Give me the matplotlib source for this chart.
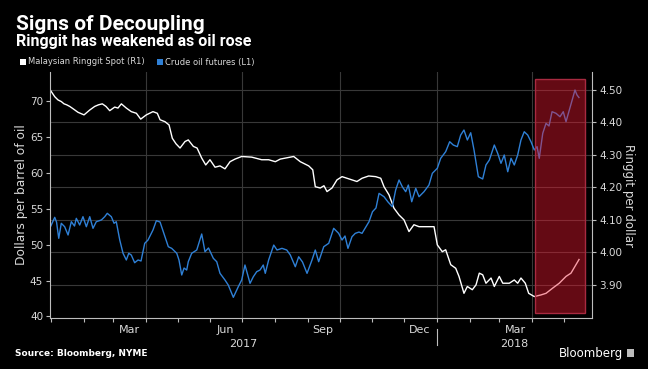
import numpy as np
import pandas as pd
import matplotlib
matplotlib.use("Agg")
import matplotlib.pyplot as plt
import matplotlib.dates as mdates
import matplotlib.ticker as mticker
from matplotlib.patches import Rectangle

start = pd.Timestamp("2017-01-01")

# Malaysian ringgit spot, ringgit per dollar (R1); days counted from 2017-01-01
myr_day = [0, 3.7, 6.8, 9.9, 12.5, 15, 17.9, 21, 25.7, 31.4, 36.8, 41.5, 45.1, 48.7,
           52.2, 55.7, 60.4, 63.5, 66.7, 71.4, 76.1, 80.9, 85, 90.3, 96.6, 100.7,
           103.3, 108, 111.8, 114.9, 118.4, 122.2, 126.9, 130, 134.8, 138.3, 142.7,
           146.5, 150.5, 155.3, 160, 164.7, 169.5, 174.2, 180.5, 190, 199.4, 206,
           212.3, 217, 221.7, 229.7, 235.9, 243.9, 247.7, 250.1, 254.8, 258.3, 261.2,
           265.9, 270.6, 275.4, 280.1, 284.8, 289.5, 294.3, 300.6, 307.2, 312, 315.1,
           319.8, 324.5, 329.3, 334, 338.7, 343.4, 348.2, 354.5, 359.2, 362.4, 365.5,
           370.2, 373.4, 378.2, 382.9, 386, 390.7, 393.9, 398.6, 402.1, 405.2, 408.4,
           411.5, 416.3, 419.4, 424.1, 427.4, 433.6, 438.3, 441.5, 444.6, 448.7, 451.9,
           457.2, 463.5, 468.3, 474.6, 480.8, 487.2, 491.9, 496.6, 499.5]
myr_val = [4.497, 4.479, 4.469, 4.464, 4.457, 4.454, 4.449, 4.442, 4.431, 4.423, 4.438,
           4.449, 4.454, 4.457, 4.449, 4.436, 4.447, 4.444, 4.457, 4.444, 4.433, 4.428,
           4.410, 4.423, 4.433, 4.428, 4.408, 4.402, 4.392, 4.351, 4.334, 4.321, 4.341,
           4.346, 4.326, 4.321, 4.290, 4.269, 4.285, 4.262, 4.266, 4.257, 4.279, 4.287,
           4.295, 4.293, 4.285, 4.285, 4.279, 4.287, 4.290, 4.295, 4.279, 4.266, 4.254,
           4.202, 4.198, 4.205, 4.187, 4.198, 4.223, 4.233, 4.228, 4.223, 4.218, 4.228,
           4.235, 4.233, 4.228, 4.202, 4.177, 4.136, 4.115, 4.100, 4.064, 4.085, 4.079,
           4.079, 4.079, 4.079, 4.023, 4.002, 4.008, 3.962, 3.951, 3.926, 3.874, 3.895,
           3.885, 3.900, 3.936, 3.931, 3.905, 3.921, 3.895, 3.926, 3.905, 3.905, 3.915,
           3.905, 3.921, 3.905, 3.874, 3.864, 3.869, 3.874, 3.890, 3.905, 3.926, 3.936,
           3.962, 3.978]

# Crude oil futures, dollars per barrel (L1)
oil_day = [0, 3.7, 5.4, 7.5, 9.9, 13.1, 16.3, 19.4, 22.4, 24.1, 27.3, 30.4, 33.6, 36.8,
           39.9, 43, 47.8, 51, 53.4, 57.2, 59.8, 61.9, 65.2, 68.3, 71.4, 73.7, 76.1,
           79.3, 82.5, 85.3, 88.8, 91.9, 96.6, 99.8, 103.3, 108, 111.1, 114.3, 119.1,
           121.2, 123.8, 126, 128.5, 130, 133.2, 138, 142.7, 145.8, 149.1, 153.7, 156.9,
           160, 164.7, 167.8, 172.6, 177.3, 180.5, 183.6, 188.4, 191.5, 194.7, 197.8,
           200.9, 202.8, 206, 210.8, 213.9, 218.6, 223.1, 226.5, 231.2, 234.4, 238,
           242.3, 247, 250.1, 253.3, 258.1, 262.8, 267.5, 272.2, 275.4, 278.2, 281,
           284.8, 287.9, 291.4, 294.3, 300.9, 304.2, 307.5, 310.4, 315.1, 318.9, 322.9,
           326.1, 329.3, 332.4, 335.6, 338.1, 341.3, 345.1, 348.2, 352.9, 357.6, 360.8,
           365.5, 368.7, 373.4, 377.2, 380.6, 384.4, 387.6, 390.7, 393.9, 397.1, 400.2,
           404.3, 408.4, 411.5, 414.7, 419.4, 422.6, 425.7, 428.8, 432.1, 435.2, 438.3,
           441.5, 444.6, 447.7, 451, 454.1, 457.2, 459.8, 461.9, 465.2, 468.3, 471.1,
           474, 477.7, 481.5, 484.6, 487.2, 490.3, 493.5, 495.7, 497.6, 499.4]
oil_val = [52.59, 53.80, 53.15, 50.88, 52.97, 52.49, 51.34, 53.19, 52.59, 53.66, 52.73,
           53.89, 52.49, 53.89, 52.27, 53.19, 53.43, 53.89, 54.36, 53.89, 52.97, 53.19,
           50.64, 48.79, 47.86, 48.79, 48.55, 47.48, 47.86, 47.72, 50.18, 50.64, 52.03,
           53.33, 53.15, 51.10, 49.71, 49.48, 48.79, 47.86, 45.77, 46.74, 46.46, 47.62,
           48.79, 49.25, 51.48, 49.01, 49.53, 48.09, 47.62, 46.00, 45.07, 44.37, 42.66,
           44.14, 45.07, 47.16, 44.61, 45.53, 46.23, 46.46, 47.16, 46.00, 47.86, 49.94,
           49.25, 49.48, 49.25, 48.55, 46.92, 48.31, 47.58, 46.00, 47.86, 49.25, 47.62,
           49.71, 50.18, 52.27, 51.57, 50.64, 51.20, 49.48, 51.10, 51.57, 51.75, 51.57,
           53.19, 54.58, 55.10, 57.14, 56.67, 55.93, 55.28, 57.60, 59.00, 58.06, 57.37,
           58.30, 55.97, 57.84, 56.67, 57.37, 58.30, 59.93, 60.63, 62.02, 62.94, 64.33,
           63.87, 63.64, 65.26, 65.96, 64.57, 65.58, 63.18, 59.46, 59.14, 61.09, 61.78,
           63.87, 62.72, 61.32, 62.48, 60.15, 62.02, 61.09, 62.48, 64.57, 65.72, 65.26,
           64.33, 63.18, 63.64, 62.02, 65.50, 66.89, 66.52, 68.51, 68.29, 67.81, 68.51,
           67.12, 68.75, 70.38, 71.53, 70.84, 70.49]

tick_labels = ["Mar", "Jun", "Sep", "Dec", "Mar"]
tick_dates = ["2017-03-16", "2017-06-15", "2017-09-15", "2017-12-16", "2018-03-16"]
grid_dates = ["2017-04-01", "2017-07-01", "2017-10-01", "2018-01-01", "2018-04-01"]
year_labels = ["2017", "2018"]
year_dates = ["2017-07-02", "2018-03-15"]
highlight_start, highlight_end = "2018-04-04", "2018-05-21"

myr_dates = start + pd.to_timedelta(myr_day, unit="D")
oil_dates = start + pd.to_timedelta(oil_day, unit="D")

BG = "black"
GRID = "#383838"
AXC = "#bdbdbd"
TXT = "#d9d9d9"
BLUE = "#2f80d6"

fig = plt.figure(figsize=(6.48, 3.69), dpi=100, facecolor=BG)
ax = fig.add_axes([0.0772, 0.1382, 0.8364, 0.6667], facecolor=BG)
ax2 = ax.twinx()
ax2.patch.set_visible(False)

# ringgit on the host axes (ticks on the right), oil on the twin (ticks on the left)
ax.plot(myr_dates, myr_val, color="white", lw=1.0)
ax2.plot(oil_dates, oil_val, color=BLUE, lw=1.0)

ax.set_xlim(pd.Timestamp("2016-12-31 06:00"), pd.Timestamp("2018-05-27 19:00"))
ax.set_ylim(3.798, 4.555)
ax2.set_ylim(39.78, 74.04)

ax.yaxis.tick_right()
ax2.yaxis.tick_left()
ax.set_yticks([3.9, 4.0, 4.1, 4.2, 4.3, 4.4, 4.5])
ax.yaxis.set_major_formatter(mticker.FormatStrFormatter("%.2f"))
ax2.set_yticks(range(40, 75, 5))

ax.grid(axis="y", color=GRID, lw=0.8)
for d in grid_dates:
    ax.axvline(pd.Timestamp(d), color=GRID, lw=0.8, zorder=0.5)

ax.xaxis.set_minor_locator(mdates.MonthLocator())
ax.xaxis.set_major_locator(mticker.FixedLocator(mdates.date2num(pd.to_datetime(tick_dates))))
ax.set_xticklabels(tick_labels)
ax.tick_params(axis="x", which="major", length=0, pad=5, labelsize=8, labelcolor=TXT)
ax.tick_params(axis="x", which="minor", length=3, color=AXC, width=0.8)
ax.tick_params(axis="y", length=3, color=AXC, labelsize=7.5, labelcolor=TXT, pad=2)
ax2.tick_params(axis="y", length=3, color=AXC, labelsize=7.5, labelcolor=TXT, pad=2)

for a in (ax, ax2):
    for s in a.spines.values():
        s.set_visible(False)
ax.spines["bottom"].set_visible(True)
ax.spines["bottom"].set_color(AXC)
ax2.spines["left"].set_visible(True)
ax2.spines["left"].set_color(AXC)
ax2.spines["right"].set_visible(True)
ax2.spines["right"].set_color(AXC)

# year labels and the year separator
trans = ax.get_xaxis_transform()
for lab, d in zip(year_labels, year_dates):
    ax.text(pd.Timestamp(d), -0.105, lab, transform=trans, ha="center", va="center",
            color=TXT, fontsize=8)
ax.plot([pd.Timestamp("2018-01-01")] * 2, [-0.045, -0.11], transform=trans,
        color=AXC, lw=0.8, clip_on=False)

# highlighted period
x0 = mdates.date2num(pd.Timestamp(highlight_start))
x1 = mdates.date2num(pd.Timestamp(highlight_end))
ax2.add_patch(Rectangle((x0, 40.47), x1 - x0, 32.6, facecolor="#f01830", alpha=0.42,
                        edgecolor="none", zorder=5))
ax2.add_patch(Rectangle((x0, 40.47), x1 - x0, 32.6, facecolor="none",
                        edgecolor="#a82a40", lw=1.0, zorder=6))

# titles, legend, axis labels, footer
fig.text(16 / 648, 1 - 30 / 369, "Signs of Decoupling", color="white", fontsize=15,
         fontweight="bold", va="baseline", family="Roboto")
fig.text(16 / 648, 1 - 46 / 369, "Ringgit has weakened as oil rose", color="white",
         fontsize=11.5, fontweight="bold", va="baseline", family="Roboto")

fig.patches.append(Rectangle((20 / 648, 1 - 65 / 369), 6 / 648, 6 / 369, facecolor="white",
                             transform=fig.transFigure, figure=fig))
fig.text(28 / 648, 1 - 62 / 369, "Malaysian Ringgit Spot (R1)", color=TXT, fontsize=6,
         va="center")
fig.patches.append(Rectangle((157 / 648, 1 - 65 / 369), 6 / 648, 6 / 369, facecolor=BLUE,
                             transform=fig.transFigure, figure=fig))
fig.text(165 / 648, 1 - 62 / 369, "Crude oil futures (L1)", color=TXT, fontsize=6,
         va="center")

fig.text(22 / 648, 1 - 195 / 369, "Dollars per barrel of oil", color=TXT, fontsize=8.8,
         rotation=90, ha="center", va="center")
fig.text(629 / 648, 1 - 195 / 369, "Ringgit per dollar", color=TXT, fontsize=8.5,
         rotation=270, ha="center", va="center")

fig.text(15 / 648, 1 - 353 / 369, "Source: Bloomberg, NYME", color="white", fontsize=6.5,
         fontweight="bold", va="center")
fig.text(623 / 648, 1 - 353 / 369, "Bloomberg", color="white", fontsize=8.5,
         ha="right", va="center")
fig.patches.append(Rectangle((627 / 648, 1 - 357 / 369), 7 / 648, 8 / 369,
                             facecolor="#bdbdbd", transform=fig.transFigure, figure=fig))

fig.savefig("out.png", dpi=100, facecolor=BG)
